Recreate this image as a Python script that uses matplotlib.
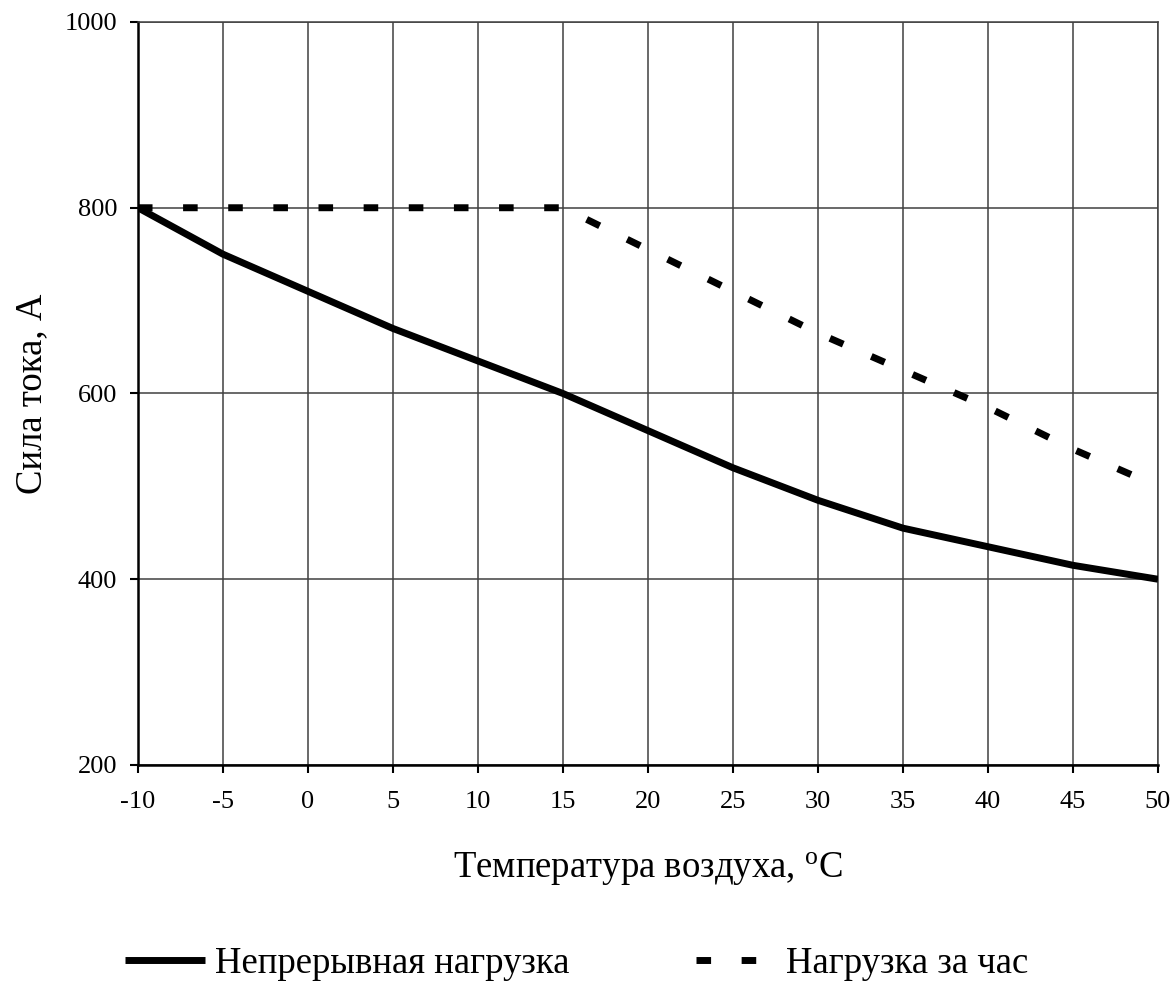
import matplotlib
matplotlib.use("Agg")
import matplotlib.pyplot as plt

# --- data ---
temp = [-10, -5, 0, 5, 10, 15, 20, 25, 30, 35, 40, 45, 50]
continuous = [800, 750, 710, 670, 635, 600, 560, 520, 485, 455, 435, 415, 400]
hourly = [800, 800, 800, 800, 800, 800, 755, 710, 665, 625, 585, 540, 500]

plt.rcParams['font.family'] = ['Liberation Serif', 'DejaVu Serif']
plt.rcParams['axes.unicode_minus'] = False

fig = plt.figure(figsize=(11.73, 9.82), dpi=100)
ax = fig.add_axes([0.1176, 0.221, 0.8696, 0.7566])

# curves
ax.plot(temp, continuous, color='black', lw=5, solid_capstyle='butt',
        solid_joinstyle='round', label='Непрерывная нагрузка', zorder=3)
ax.plot(temp, hourly, color='black', lw=5, dashes=(2.1, 4.4),
        dash_capstyle='butt', label='Нагрузка за час', zorder=3)

ax.set_xlim(-10, 50)
ax.set_ylim(200, 1000)
ax.set_xticks(range(-10, 51, 5))
ax.set_yticks(range(200, 1001, 200))
ax.grid(True, color='#404040', lw=1.1)
ax.set_axisbelow(True)

for s in ax.spines.values():
    s.set_linewidth(1.1)
    s.set_color('#404040')
ax.spines['left'].set_linewidth(1.8)
ax.spines['left'].set_color('black')
ax.spines['bottom'].set_linewidth(1.8)
ax.spines['bottom'].set_color('black')

ax.tick_params(direction='out', length=6, width=1.5, labelsize=19)
ax.tick_params(axis='x', pad=13)
ax.tick_params(axis='y', pad=9)

ax.set_xlabel('Температура воздуха, $\\mathregular{^o}$C', fontsize=26.5)
ax.xaxis.set_label_coords(0.5, -0.116)
ax.set_ylabel('Сила тока, А', fontsize=26.5, labelpad=11)

fig.legend(loc='center left', bbox_to_anchor=(0.1066, 0.019), ncol=2,
           frameon=False, fontsize=26.5, handlelength=2.17, handletextpad=0.27,
           columnspacing=3.45, borderpad=0, borderaxespad=0)

fig.savefig('out.png', dpi=100)
